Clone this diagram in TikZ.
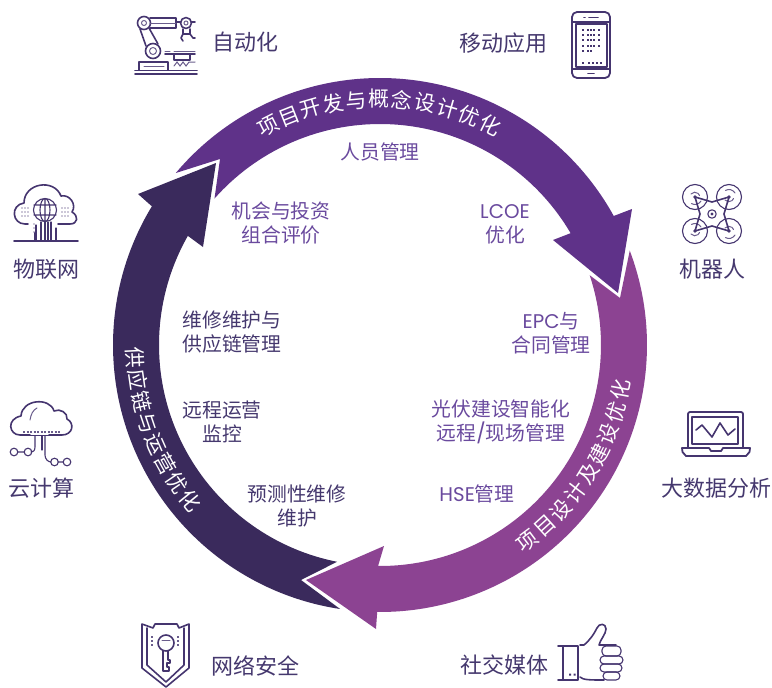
\documentclass[tikz,border=0pt]{standalone}
\usepackage{fontspec}
\setmainfont{Noto Sans CJK SC}
\newfontfamily\lat{Poppins}
\definecolor{arrA}{HTML}{5F3289}
\definecolor{arrB}{HTML}{8C4392}
\definecolor{arrC}{HTML}{3A2A5C}
\definecolor{txtA}{HTML}{6A4A9E}
\definecolor{txtC}{HTML}{45386E}
\definecolor{ico}{HTML}{45356F}
\tikzset{
  inA/.style={text=txtA,align=center,inner sep=0pt,font=\fontsize{19.8}{24}\selectfont},
  inC/.style={text=txtC,align=center,inner sep=0pt,font=\fontsize{19.8}{24}\selectfont},
  lab/.style={text=txtC,align=center,inner sep=0pt,font=\fontsize{22}{26}\selectfont},
  ringtxt/.style={text=white,inner sep=0pt,font=\fontsize{21}{24}\selectfont},
  icon/.style={draw=ico,line width=1.6pt,fill=none,line join=round,line cap=round},
  thin icon/.style={draw=ico!80,line width=1pt,fill=none,line cap=round},
  dotf/.style={fill=ico,draw=none}
}
\begin{document}
\begin{tikzpicture}[x=1pt,y=-1pt]
\useasboundingbox (0,0) rectangle (772,688);
% ring
\begin{scope}[shift={(380,345)},x=1pt,y=1pt]
\fill[arrC] (261.4:267pt) arc[start angle=261.4,end angle=148.7,radius=267pt] -- (-242,151) -- (-164,182) -- (-177,98) -- (150.4:221pt) arc[start angle=150.4,end angle=258.8,radius=221pt] -- (-79,-235) -- cycle;
\fill[arrA] (139.9:267pt) arc[start angle=139.9,end angle=28.9,radius=267pt] -- (252,136) -- (238,52) -- (173,105) -- (30.4:221pt) arc[start angle=30.4,end angle=138.5,radius=221pt] -- (-160,186) -- cycle;
\fill[arrB] (20.7:267pt) arc[start angle=20.7,end angle=-90.6,radius=267pt] -- (-4,-284) -- (-74,-235) -- (4,-201) -- (-90.5:221pt) arc[start angle=-90.5,end angle=18.4,radius=221pt] -- (240,47) -- cycle;
\foreach \c [count=\i] in {项,目,开,发,与,概,念,设,计,优,化}{
  \pgfmathsetmacro\a{117-5.36*(\i-1)}
  \node[ringtxt,rotate=\a-90] (ra\i) at (\a:246pt) {\c};
}
\foreach \c [count=\i] in {项,目,设,计,及,建,设,优,化}{
  \pgfmathsetmacro\a{-53+5.3*(\i-1)}
  \node[ringtxt,rotate=\a+90] (rb\i) at (\a:245pt) {\c};
}
\foreach \c [count=\i] in {供,应,链,与,运,营,优,化}{
  \pgfmathsetmacro\a{183+5.19*(\i-1)}
  \node[ringtxt,rotate=\a+90] (rc\i) at (\a:245pt) {\c};
}
\end{scope}
% inner texts
\node[inA] (t1) at (380,152) {人员管理};
\node[inA] (t2) at (281,223) {机会与投资\\组合评价};
\node[inA] (t3) at (505,224) {{\lat LCOE}\\优化};
\node[inA] (t4) at (551,333) {{\lat EPC}与\\合同管理};
\node[inA] (t5) at (501,422) {光伏建设智能化\\远程{\lat /}现场管理};
\node[inA] (t6) at (477,494) {{\lat HSE}管理};
\node[inC] (t7) at (232,332) {维修维护与\\供应链管理};
\node[inC] (t8) at (222,422) {远程运营\\监控};
\node[inC] (t9) at (297,506) {预测性维修\\维护};
% labels
\node[lab] (l1) at (245,42) {自动化};
\node[lab] (l2) at (503,43) {移动应用};
\node[lab] (l3) at (712,269) {机器人};
\node[lab] (l4) at (716,488) {大数据分析};
\node[lab] (l5) at (504,665) {社交媒体};
\node[lab] (l6) at (255,666) {网络安全};
\node[lab] (l7) at (42,488) {云计算};
\node[lab] (l8) at (46,269) {物联网};
% robot arm
\draw[icon] (135,70.5)--(197,70.5) (135,74)--(197,74);
\draw[icon] (139,70)--(139,62)--(168,62)--(168,70);
\draw[thin icon] (144,66)--(164,66);
\draw[icon] (144,23) circle (6.5) (153,51) circle (7.5);
\draw[thin icon] (144,23) circle (2.5) (153,51) circle (3.5);
\draw[icon] (140,29)--(146,46) (149,28)--(158,44);
\draw[icon] (150,18)--(176,18)--(176,28)--(150,28);
\draw[thin icon] (150,23)--(176,23);
\draw[icon] (186,23) circle (5.5);
\draw[thin icon] (186,23) circle (2);
\draw[icon] (176,22)--(181,22) (191,22)--(195,22);
\draw[icon] (183,29)--(183,34)--(190,34)--(190,29);
\draw[icon] (183,34)--(181,38)--(183,41) (190,34)--(193,38)--(195,38);
\draw[icon] (165,54)--(195,54) (174,60)--(190,60)--(190,55) (174,60)--(174,55);
\draw[thin icon] (165,51)--(170,51) (174,51)--(195,51);
\draw[thin icon] (174,66)--(177,62)--(180,66)--(183,62)--(186,66)--(189,62)--(195,62);
% phone
\draw[icon,line width=1.8pt,rounded corners=5pt] (572,12) rectangle (610,78);
\draw[icon] (572,22)--(610,22) (572,69)--(610,69);
\draw[icon] (576,24) rectangle (607,67);
\draw[icon] (584,17.5)--(585,17.5) (589,17.5)--(598,17.5) (588,73.5)--(594,73.5);
\foreach \y in {29,34,39,45}{\foreach \x in {582,587,590,593,598}{\fill[dotf] (\x,\y) rectangle +(2.2,2.2);}}
\foreach \x in {582,587,590}{\fill[dotf] (\x,50) rectangle +(2.2,2.2);}
\foreach \x in {582,588,592,596,600}{\fill[dotf] (\x,62) rectangle +(2,2);}
% drone
\foreach \x/\y in {695/197,729/197,695/231,729/231}{
  \draw[icon,line width=1.1pt] (\x,\y) circle (12.5);
  \fill[ico] (\x,\y) circle (1.8);
}
\draw[thin icon] (691,194) arc[start angle=-140,end angle=-20,radius=5] (701,201) arc[start angle=30,end angle=120,radius=7];
\draw[thin icon] (725,200) arc[start angle=140,end angle=20,radius=5] (735,193) arc[start angle=-30,end angle=-120,radius=7];
\draw[thin icon] (691,234) arc[start angle=140,end angle=20,radius=5] (701,227) arc[start angle=-30,end angle=-120,radius=7];
\draw[thin icon] (725,228) arc[start angle=-140,end angle=-20,radius=5] (735,235) arc[start angle=30,end angle=120,radius=7];
\draw[icon] (695,197)--(712,202)--(729,197)--(724,214)--(729,231)--(712,226)--(695,231)--(700,214)--cycle;
\draw[icon,line width=1.1pt] (712,214) circle (4.2);
\fill[ico] (712,214) circle (1.6);
% laptop
\draw[icon,line width=1.8pt,rounded corners=2pt] (688,448)--(688,412)--(743,412)--(743,448);
\draw[icon,line width=1.8pt] (692,444)--(692,417)--(738,417)--(738,444)--cycle;
\draw[icon,line width=1.8pt] (682,448)--(709,448)--(711,451)--(721,451)--(723,448)--(750,448)--(749.5,452)--(746,456)--(686,456)--(682.5,452)--cycle;
\draw[icon] (696,430)--(702,425)--(712,437)--(720,423)--(728,435)--(735,429);
% thumb
\draw[icon] (558,646)--(578,646) (558,680)--(578,680) (563,646)--(563,680) (578,646)--(578,680);
\fill[dotf] (569,673.5) rectangle +(2,2) (573.5,673.5) rectangle +(2,2);
\draw[icon] (580,645) -- (584,645) .. controls (590,640) and (594,634) .. (597,628) .. controls (599,623) and (606,623) .. (606,629) .. controls (606,634) and (600,640) .. (599,645) -- (616,645);
\draw[icon] (580,677) .. controls (583,680) and (590,680) .. (604,680);
\draw[icon,line width=1.1pt,rounded corners=4pt] (602,646) rectangle (621,656);
\draw[icon,line width=1.1pt,rounded corners=4pt] (600,656) rectangle (623,664);
\draw[icon,line width=1.1pt,rounded corners=4pt] (600,664) rectangle (622,672);
\draw[icon,line width=1.1pt,rounded corners=4pt] (603,672) rectangle (620,680);
% shield
\draw[icon] (142,624)--(153,628)--(155,624)--(177,624)--(179,628)--(189,624)--(189,668)--(166,687)--(142,668)--cycle;
\draw[icon] (147,628)--(147,665)--(166,682)--(184,665)--(184,628);
\draw[thin icon,dash pattern=on 2pt off 2pt,line width=1.3pt,line cap=butt] (152,636)--(152,647) (178,636)--(178,647);
\draw[icon] (166,643) circle (8);
\draw[thin icon] (162,640)--(170,640);
\draw[icon] (163,651)--(163,671)--(169,671)--(169,667)--(167,667)--(167,663)--(170,663)--(170,660)--(168,660)--(168,651);
% cloud compute
\draw[icon] (30,435)--(20,435) .. controls (9,435) and (6,419) .. (21,416) .. controls (22,399) and (50,397) .. (54,411) .. controls (60,408) and (68,413) .. (67,419) .. controls (75,423) and (73,435) .. (62,435) -- (49,435);
\draw[icon] (30,435.5)--(50,435.5);
\draw[thin icon,line width=1.1pt,dash pattern=on 2pt off 1.5pt,line cap=butt] (23,432)--(60,432);
\draw[thin icon] (30,420) .. controls (31,414) and (33,410) .. (37,408);
\draw[icon,line width=1.1pt] (35,436)--(35,447) .. controls (35,451) and (33,452) .. (31,452);
\draw[icon,line width=1.1pt] (42,436)--(42,450);
\draw[icon,line width=1.1pt] (45,436)--(45,455) .. controls (45,459) and (48,462) .. (51,462);
\draw[icon,line width=1.1pt] (14,452) circle (3.8) (28,452) circle (3.8) (54.5,462) circle (3.8) (67,462) circle (3.8) (18,452)--(24,452) (58,462)--(63,462);
% cloud IoT
\draw[icon] (28,224)--(25,224) .. controls (12,224) and (10,205) .. (24,203) .. controls (24,183) and (54,178) .. (61,196) .. controls (70,194) and (77,205) .. (72,212) .. controls (79,216) and (78,224) .. (70,224) -- (58,224);
\draw[icon,line width=1.1pt] (45,210) circle (11.5) (45,210) ellipse (5 and 11.5) (45,198.5)--(45,221.5) (34,205)--(56,205) (34,215)--(56,215);
\draw[icon] (14,241)--(78,241);
\draw[icon,line width=1.1pt] (36,225)--(36,241) (41,222)--(41,241) (45,222)--(45,241) (48,222)--(48,241) (51,222)--(51,241) (56,228)--(56,241);
\fill[ico] (34,232) rectangle (37,241);
\foreach \x in {22,25,28}{\foreach \y in {208,212,216}{\fill[ico!55] (\x,\y) circle (.8);}}
\foreach \x in {62,65,68}{\foreach \y in {208,212,216}{\fill[ico!55] (\x,\y) circle (.8);}}
\foreach \y in {224,228,232}{\fill[ico!55] (34,\y) circle (.8);}
\end{tikzpicture}
\end{document}
